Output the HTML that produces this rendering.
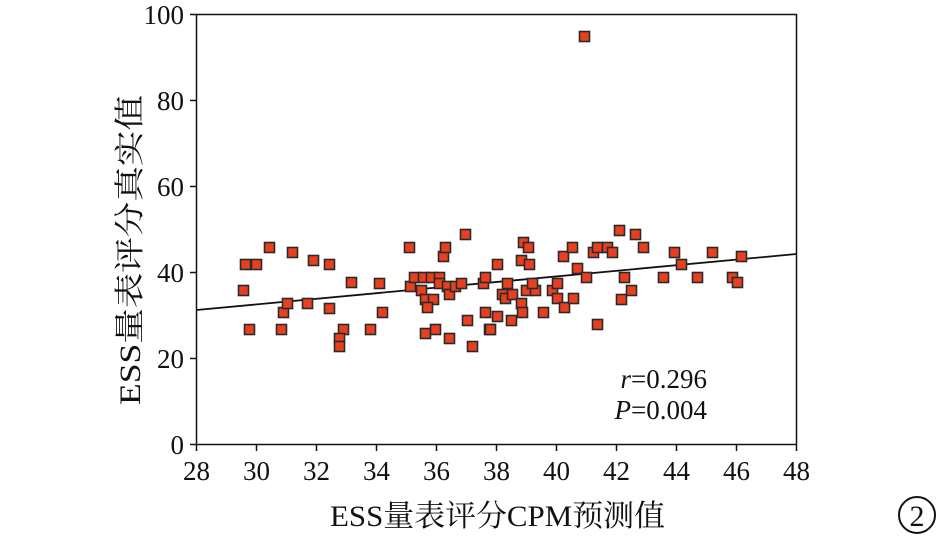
<!DOCTYPE html>
<html><head><meta charset="utf-8"><style>
html,body{margin:0;padding:0;background:#fff;}
svg{display:block;}
text{font-family:"Liberation Serif","Noto Serif CJK SC",serif;fill:#111;}
</style></head><body>
<svg width="945" height="539" viewBox="0 0 945 539" xmlns="http://www.w3.org/2000/svg">
<rect x="196.5" y="14.5" width="600" height="430" fill="none" stroke="#111" stroke-width="1.5"/>
<g stroke="#111" stroke-width="1.5">
<line x1="190" y1="14.5" x2="196.5" y2="14.5"/><line x1="190" y1="100.5" x2="196.5" y2="100.5"/><line x1="190" y1="186.5" x2="196.5" y2="186.5"/><line x1="190" y1="272.5" x2="196.5" y2="272.5"/><line x1="190" y1="358.5" x2="196.5" y2="358.5"/><line x1="190" y1="444.5" x2="196.5" y2="444.5"/>
<line x1="196.5" y1="444.5" x2="196.5" y2="451"/><line x1="256.5" y1="444.5" x2="256.5" y2="451"/><line x1="316.5" y1="444.5" x2="316.5" y2="451"/><line x1="376.5" y1="444.5" x2="376.5" y2="451"/><line x1="436.5" y1="444.5" x2="436.5" y2="451"/><line x1="496.5" y1="444.5" x2="496.5" y2="451"/><line x1="556.5" y1="444.5" x2="556.5" y2="451"/><line x1="616.5" y1="444.5" x2="616.5" y2="451"/><line x1="676.5" y1="444.5" x2="676.5" y2="451"/><line x1="736.5" y1="444.5" x2="736.5" y2="451"/><line x1="796.5" y1="444.5" x2="796.5" y2="451"/>
</g>
<g font-size="27" text-anchor="end">
<text x="184" y="24">100</text><text x="184" y="110">80</text><text x="184" y="196">60</text><text x="184" y="282">40</text><text x="184" y="368">20</text><text x="184" y="454">0</text>
</g>
<g font-size="27" text-anchor="middle">
<text x="196.5" y="480">28</text><text x="256.5" y="480">30</text><text x="316.5" y="480">32</text><text x="376.5" y="480">34</text><text x="436.5" y="480">36</text><text x="496.5" y="480">38</text><text x="556.5" y="480">40</text><text x="616.5" y="480">42</text><text x="676.5" y="480">44</text><text x="736.5" y="480">46</text><text x="796.5" y="480">48</text>
</g>
<text x="330" y="526" font-size="30" textLength="335" lengthAdjust="spacingAndGlyphs">ESS量表评分CPM预测值</text>
<text transform="translate(140,405) rotate(-90)" font-size="30" textLength="310" lengthAdjust="spacingAndGlyphs">ESS量表评分真实值</text>
<text x="707" y="388" font-size="27" text-anchor="end"><tspan font-style="italic">r</tspan>=0.296</text>
<text x="707" y="419" font-size="27" text-anchor="end"><tspan font-style="italic">P</tspan>=0.004</text>
<circle cx="917" cy="515" r="18" fill="none" stroke="#111" stroke-width="2"/>
<text x="917" y="526" font-size="30" text-anchor="middle" font-family="Liberation Sans,sans-serif">2</text>
<line x1="196.5" y1="310" x2="796.5" y2="254" stroke="#111" stroke-width="1.8"/>
<g fill="#e8401e" stroke="#2a2a2a" stroke-width="1.6" transform="translate(-0.5,-0.5)">
<rect x="239" y="286" width="10" height="10"/><rect x="241" y="260" width="10" height="10"/><rect x="252" y="260" width="10" height="10"/><rect x="245" y="325" width="10" height="10"/><rect x="265" y="243" width="10" height="10"/><rect x="277" y="325" width="10" height="10"/><rect x="279" y="308" width="10" height="10"/><rect x="283" y="299" width="10" height="10"/><rect x="288" y="248" width="10" height="10"/><rect x="303" y="299" width="10" height="10"/><rect x="309" y="256" width="10" height="10"/><rect x="325" y="260" width="10" height="10"/><rect x="325" y="304" width="10" height="10"/><rect x="339" y="325" width="10" height="10"/><rect x="335" y="334" width="10" height="10"/><rect x="335" y="342" width="10" height="10"/><rect x="347" y="278" width="10" height="10"/><rect x="366" y="325" width="10" height="10"/><rect x="375" y="279" width="10" height="10"/><rect x="378" y="308" width="10" height="10"/><rect x="405" y="243" width="10" height="10"/><rect x="406" y="282" width="10" height="10"/><rect x="410" y="273" width="10" height="10"/><rect x="419" y="273" width="10" height="10"/><rect x="427" y="273" width="10" height="10"/><rect x="435" y="273" width="10" height="10"/><rect x="435" y="279" width="10" height="10"/><rect x="417" y="286" width="10" height="10"/><rect x="421" y="295" width="10" height="10"/><rect x="429" y="295" width="10" height="10"/><rect x="423" y="303" width="10" height="10"/><rect x="421" y="329" width="10" height="10"/><rect x="431" y="325" width="10" height="10"/><rect x="439" y="252" width="10" height="10"/><rect x="441" y="243" width="10" height="10"/><rect x="443" y="282" width="10" height="10"/><rect x="445" y="290" width="10" height="10"/><rect x="445" y="334" width="10" height="10"/><rect x="451" y="282" width="10" height="10"/><rect x="457" y="279" width="10" height="10"/><rect x="461" y="230" width="10" height="10"/><rect x="463" y="316" width="10" height="10"/><rect x="468" y="342" width="10" height="10"/><rect x="479" y="279" width="10" height="10"/><rect x="481" y="273" width="10" height="10"/><rect x="481" y="308" width="10" height="10"/><rect x="485" y="325" width="10" height="10"/><rect x="493" y="260" width="10" height="10"/><rect x="493" y="312" width="10" height="10"/><rect x="486" y="325" width="10" height="10"/><rect x="503" y="279" width="10" height="10"/><rect x="498" y="290" width="10" height="10"/><rect x="501" y="294" width="10" height="10"/><rect x="508" y="290" width="10" height="10"/><rect x="507" y="316" width="10" height="10"/><rect x="517" y="299" width="10" height="10"/><rect x="518" y="308" width="10" height="10"/><rect x="519" y="238" width="10" height="10"/><rect x="524" y="243" width="10" height="10"/><rect x="517" y="256" width="10" height="10"/><rect x="525" y="260" width="10" height="10"/><rect x="522" y="286" width="10" height="10"/><rect x="531" y="286" width="10" height="10"/><rect x="528" y="279" width="10" height="10"/><rect x="539" y="308" width="10" height="10"/><rect x="548" y="286" width="10" height="10"/><rect x="553" y="279" width="10" height="10"/><rect x="553" y="294" width="10" height="10"/><rect x="560" y="303" width="10" height="10"/><rect x="559" y="252" width="10" height="10"/><rect x="568" y="243" width="10" height="10"/><rect x="569" y="294" width="10" height="10"/><rect x="573" y="264" width="10" height="10"/><rect x="582" y="273" width="10" height="10"/><rect x="589" y="248" width="10" height="10"/><rect x="593" y="243" width="10" height="10"/><rect x="603" y="243" width="10" height="10"/><rect x="608" y="248" width="10" height="10"/><rect x="593" y="320" width="10" height="10"/><rect x="615" y="226" width="10" height="10"/><rect x="617" y="295" width="10" height="10"/><rect x="627" y="286" width="10" height="10"/><rect x="620" y="273" width="10" height="10"/><rect x="631" y="230" width="10" height="10"/><rect x="639" y="243" width="10" height="10"/><rect x="659" y="273" width="10" height="10"/><rect x="670" y="248" width="10" height="10"/><rect x="677" y="260" width="10" height="10"/><rect x="693" y="273" width="10" height="10"/><rect x="708" y="248" width="10" height="10"/><rect x="737" y="252" width="10" height="10"/><rect x="728" y="273" width="10" height="10"/><rect x="733" y="278" width="10" height="10"/><rect x="580" y="32" width="10" height="10"/>
</g>
</svg>
</body></html>
